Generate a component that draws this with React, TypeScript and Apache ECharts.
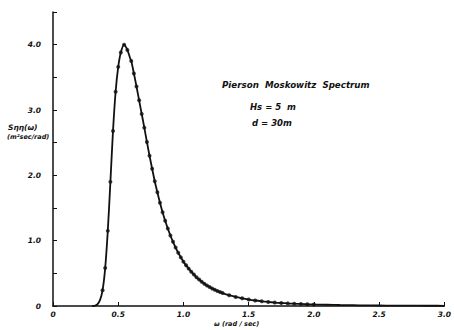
import React, { useEffect, useRef } from "react";
import * as echarts from "echarts";

const omega = [
  0.30, 0.32, 0.34, 0.36, 0.38, 0.40, 0.42, 0.44, 0.46, 0.48, 0.50, 0.52, 0.545, 0.57, 0.59,
  0.60, 0.62, 0.64, 0.66, 0.68, 0.70, 0.72, 0.74, 0.76, 0.78, 0.80, 0.82, 0.84, 0.86, 0.88,
  0.90, 0.92, 0.94, 0.96, 0.98, 1.00, 1.02, 1.04, 1.06, 1.08, 1.10, 1.12, 1.14, 1.16, 1.18,
  1.20, 1.22, 1.24, 1.26, 1.28, 1.30, 1.35, 1.40, 1.45, 1.50, 1.55, 1.60, 1.65, 1.70, 1.75,
  1.80, 1.85, 1.90, 1.95, 2.00, 2.10, 2.20, 2.30, 2.40, 2.50, 2.60, 2.70, 2.80, 2.90, 3.00,
];
const spectrum = [
  0.0, 0.004, 0.025, 0.09, 0.24, 0.58, 1.15, 1.9, 2.68, 3.28, 3.66, 3.88, 4.0, 3.92, 3.8,
  3.75, 3.56, 3.36, 3.15, 2.94, 2.73, 2.51, 2.3, 2.1, 1.91, 1.74, 1.58, 1.435, 1.304, 1.186,
  1.079, 0.982, 0.894, 0.815, 0.744, 0.679, 0.623, 0.572, 0.525, 0.482, 0.439, 0.405, 0.372, 0.342, 0.315,
  0.291, 0.269, 0.248, 0.23, 0.213, 0.198, 0.166, 0.138, 0.117, 0.099, 0.084, 0.072, 0.062, 0.053, 0.046,
  0.04, 0.035, 0.031, 0.027, 0.024, 0.019, 0.015, 0.012, 0.0096, 0.008, 0.0065, 0.0054, 0.0045, 0.0038, 0.0032,
];
const xTicks = ["0", "0.5", "1.0", "1.5", "2.0", "2.5", "3.0"];
const yTicks = ["0", "1.0", "2.0", "3.0", "4.0"];
const titleLines = ["Pierson  Moskowitz  Spectrum", "Hs = 5  m", "d = 30m"];

const FONT = "DejaVu Sans";

export default function App() {
  const ref = useRef<HTMLDivElement>(null);
  useEffect(() => {
    if (!ref.current) return;
    const chart = echarts.init(ref.current, null, { renderer: "svg" });
    const pts = omega.map((w, i) => [w, spectrum[i]]);
    const dots = pts.filter((p) => p[0] >= 0.37 && p[0] <= 2.0 && p[0] !== 0.59);
    const lbl = {
      fontFamily: FONT,
      fontStyle: "italic" as const,
      fontWeight: "bold" as const,
      fontSize: 7.5,
      color: "#111",
    };
    chart.setOption({
      animation: false,
      backgroundColor: "#fff",
      grid: { left: 53, right: 5, top: 12, bottom: 24 },
      xAxis: {
        type: "value",
        min: 0,
        max: 3,
        interval: 0.5,
        splitLine: { show: false },
        axisLine: { lineStyle: { color: "#111", width: 1.5 } },
        axisTick: { inside: true, length: 4, lineStyle: { color: "#111", width: 1 } },
        axisLabel: {
          ...lbl,
          margin: 4,
          showMaxLabel: true,
          formatter: (v: number) => xTicks[Math.round(v / 0.5)] ?? "",
        },
      },
      yAxis: {
        type: "value",
        min: 0,
        max: 4.5,
        interval: 0.5,
        splitLine: { show: false },
        axisLine: { lineStyle: { color: "#111", width: 1.5 } },
        axisTick: { inside: true, length: 4, lineStyle: { color: "#111", width: 1 } },
        axisLabel: {
          ...lbl,
          margin: 12,
          formatter: (v: number) => {
            const k = Math.round(v * 2);
            if (k % 2 !== 0) return "";
            return yTicks[k / 2] ?? "";
          },
        },
      },
      series: [
        {
          type: "line",
          data: pts,
          smooth: 0.3,
          showSymbol: false,
          lineStyle: { color: "#111", width: 1.8 },
          z: 2,
        },
        {
          type: "scatter",
          data: dots,
          symbol: "circle",
          symbolSize: 4,
          itemStyle: { color: "#111" },
          z: 3,
        },
      ],
      graphic: [
        {
          type: "text",
          left: 222,
          top: 80,
          style: { text: titleLines[0], font: `italic bold 8.7px "${FONT}"`, fill: "#111" },
        },
        {
          type: "text",
          left: 250,
          top: 102,
          style: { text: titleLines[1], font: `italic bold 8.5px "${FONT}"`, fill: "#111" },
        },
        {
          type: "text",
          left: 252,
          top: 118,
          style: { text: titleLines[2], font: `italic bold 8.5px "${FONT}"`, fill: "#111" },
        },
        {
          type: "text",
          left: 8,
          top: 123,
          style: { text: "Sηη(ω)", font: `italic bold 7.5px "${FONT}"`, fill: "#111" },
        },
        {
          type: "text",
          left: 7,
          top: 133,
          style: { text: "(m²sec/rad)", font: `italic bold 6.5px "${FONT}"`, fill: "#111" },
        },
        {
          type: "text",
          left: 214,
          top: 320,
          style: { text: "ω (rad / sec)", font: `italic bold 6.5px "${FONT}"`, fill: "#111" },
        },
      ],
    });
    return () => chart.dispose();
  }, []);
  return (
    <div
      ref={ref}
      style={{ position: "fixed", left: 0, top: 0, width: 454, height: 330, background: "#fff" }}
    />
  );
}
